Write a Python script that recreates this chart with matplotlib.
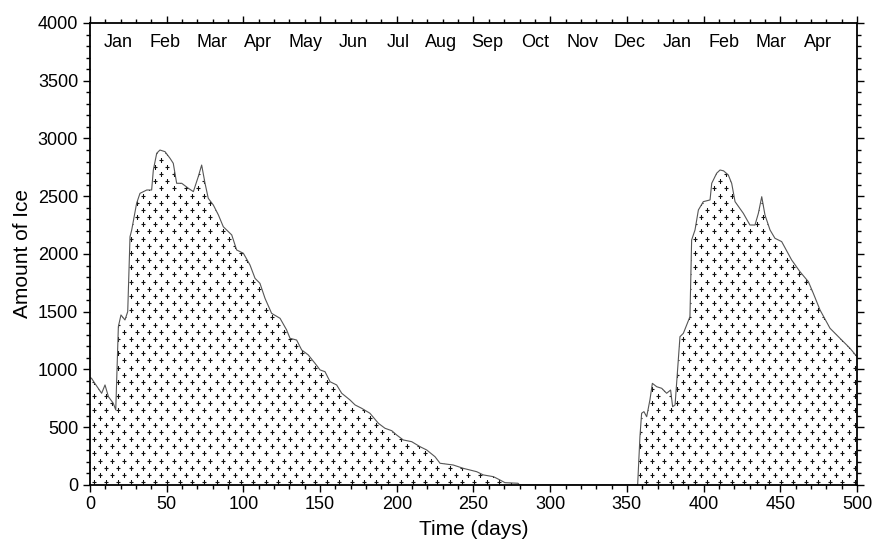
import matplotlib
matplotlib.use("Agg")
import matplotlib.pyplot as plt
import numpy as np
from matplotlib.ticker import MultipleLocator

plt.rcParams['font.family'] = ['Liberation Sans', 'DejaVu Sans']

# Ice amount over time (day, amount)
days = [0, 1, 3, 7.6, 9.8, 12, 15.2, 16.8, 18.5, 20.2, 22.8, 24.6, 26.1, 27.2,
        30.4, 32.6, 37, 40.2, 41.3, 43.5, 45.6, 48.9, 52.2, 54.3, 56.5, 59.8,
        64.1, 67.4, 70.6, 72.8, 75, 77.1, 80.4, 83.7, 86.9, 92.4, 95.6, 100,
        104.3, 107.6, 110.8, 114.1, 118.4, 123.9, 128.2, 130.4, 134.7, 138,
        142.3, 146.7, 150, 153.2, 156.5, 160.8, 164.1, 169.5, 172.8, 177.1,
        182.5, 188, 192.3, 196.7, 199.9, 204.2, 209.7, 215.1, 219.5, 224.9,
        228.2, 236.8, 243.4, 252.1, 256.4, 263, 267.3, 270.5, 279, 280,
        356.5, 357, 358.5, 359.6, 361.1, 362.9, 365, 366.6, 369.4, 372.7,
        375.9, 378.5, 379.8, 381.4, 383.5, 384.6, 386.8, 391.1, 392.2, 394.4,
        396.6, 399.8, 404.2, 405.3, 408.5, 410.7, 413, 416.1, 418.3, 420.5,
        425.9, 430.2, 433.5, 435.7, 437.9, 440, 443.3, 446.5, 450.9, 457.4,
        462.8, 468.3, 471.5, 475.9, 482.4, 488.9, 495.4, 500]
ice = [930, 924, 883, 794, 866, 765, 707, 650, 1371, 1472, 1429, 1501, 2150, 2208,
       2439, 2525, 2554, 2554, 2727, 2872, 2900, 2886, 2828, 2785, 2612, 2612,
       2569, 2540, 2670, 2770, 2612, 2482, 2424, 2338, 2236, 2165, 2035, 2006,
       1905, 1789, 1746, 1616, 1486, 1443, 1342, 1270, 1255, 1169,
       1126, 1053, 996, 981, 894, 866, 794, 736, 693, 664,
       621, 534, 491, 470, 433, 390, 375, 332, 303, 245,
       188, 173, 144, 115, 87, 72, 43, 20, 15, 0,
       0, 0, 418, 621, 635, 591, 736, 880, 851, 837,
       794, 822, 678, 693, 1082, 1284, 1313, 1457, 2121, 2208,
       2381, 2453, 2468, 2612, 2699, 2727, 2720, 2684, 2612, 2453,
       2352, 2251, 2251, 2352, 2496, 2338, 2208, 2136, 2107, 1948,
       1847, 1760, 1660, 1515, 1357, 1270, 1184, 1111]

months = ["Jan", "Feb", "Mar", "Apr", "May", "Jun", "Jul", "Aug", "Sep", "Oct",
          "Nov", "Dec", "Jan", "Feb", "Mar", "Apr"]
month_pos = [18.3, 48.9, 79.5, 109.5, 140.8, 171.4, 200.8, 229, 259, 290,
             321, 352, 382.6, 413, 444, 474.6]

fig = plt.figure(figsize=(8.77, 5.42), dpi=100)
ax = fig.add_axes([0.1026, 0.1052, 0.8746, 0.8524])
ax.set_xlim(0, 500)
ax.set_ylim(0, 4000)

area = ax.fill_between(days, ice, 0, facecolor="white", linewidth=0)

# stippled texture inside the filled area: staggered lattice of small crosses
step_x, step_y = 8.0, 62.0
rows = np.arange(25.0, 4000, step_y)
tx, ty = [], []
for i, yv in enumerate(rows):
    xs = np.arange(2.5 + (step_x / 2) * (i % 2), 500, step_x)
    tx.extend(xs)
    ty.extend([yv] * len(xs))
dots = ax.scatter(tx, ty, marker="+", s=5, linewidths=0.8, color="#111111")
dots.set_clip_path(area.get_paths()[0], area.get_transform())

ax.plot(days, ice, color="#555555", linewidth=0.8)

ax.xaxis.set_major_locator(MultipleLocator(50))
ax.xaxis.set_minor_locator(MultipleLocator(10))
ax.yaxis.set_major_locator(MultipleLocator(500))
ax.yaxis.set_minor_locator(MultipleLocator(100))
ax.tick_params(which="both", direction="out", top=True, right=True,
               width=1.0, colors="black")
ax.tick_params(which="major", length=5, labelsize=13)
ax.tick_params(which="minor", length=3)
ax.tick_params(axis="x", pad=3)
for s in ax.spines.values():
    s.set_linewidth(1.3)

for name, pos in zip(months, month_pos):
    ax.text(pos, 0.957, name, transform=ax.get_xaxis_transform(),
            ha="center", va="center", fontsize=13)

ax.set_xlabel("Time (days)", fontsize=15, labelpad=5)
ax.set_ylabel("Amount of Ice", fontsize=15, labelpad=4)

fig.savefig("out.png", dpi=100)
